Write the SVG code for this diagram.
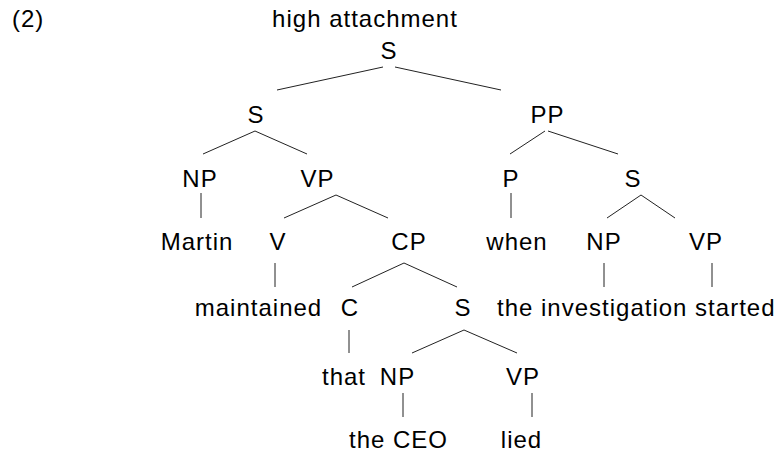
<svg xmlns="http://www.w3.org/2000/svg" width="777" height="454" viewBox="0 0 777 454">
<style>
text{font-family:"Liberation Sans",Arial,sans-serif;font-size:24px;letter-spacing:1px;fill:#000;text-anchor:middle}
.st{text-anchor:start}
#edges line{stroke:#222;stroke-width:1}
</style>
<rect width="777" height="454" fill="#fff"/>
<text class="st" x="12" y="27">(2)</text>
<text x="365" y="27">high attachment</text>
<g id="edges">
<line x1="383" y1="67" x2="277" y2="90"/>
<line x1="395" y1="67" x2="501" y2="90"/>
<line x1="255" y1="131" x2="203" y2="154"/>
<line x1="255" y1="131" x2="307" y2="154"/>
<line x1="545" y1="131" x2="510" y2="154"/>
<line x1="548" y1="131" x2="618" y2="154"/>
<line x1="201" y1="193" x2="201" y2="218"/>
<line x1="336" y1="195" x2="284" y2="218"/>
<line x1="336" y1="195" x2="388" y2="218"/>
<line x1="511" y1="193" x2="511" y2="218"/>
<line x1="641" y1="195" x2="607" y2="218"/>
<line x1="641" y1="195" x2="675" y2="218"/>
<line x1="275" y1="263" x2="275" y2="287"/>
<line x1="404" y1="263" x2="352" y2="287"/>
<line x1="404" y1="263" x2="457" y2="287"/>
<line x1="604" y1="263" x2="604" y2="287"/>
<line x1="712" y1="263" x2="712" y2="287"/>
<line x1="349" y1="330" x2="349" y2="353"/>
<line x1="464" y1="330" x2="412" y2="353"/>
<line x1="464" y1="330" x2="517" y2="353"/>
<line x1="403" y1="393" x2="403" y2="417"/>
<line x1="532" y1="393" x2="532" y2="417"/>
</g>
<g id="n-S-root"><text x="389" y="59">S</text></g>
<g id="n-S1"><text x="256" y="123">S</text></g>
<g id="n-PP"><text x="547.5" y="123">PP</text></g>
<g id="n-NP1"><text x="200" y="187">NP</text></g>
<g id="n-VP1"><text x="317.5" y="187">VP</text></g>
<g id="n-P"><text x="511" y="187">P</text></g>
<g id="n-S2"><text x="633" y="187">S</text></g>
<g id="n-Martin"><text x="197" y="250">Martin</text></g>
<g id="n-V"><text x="278" y="250">V</text></g>
<g id="n-CP"><text x="409" y="250">CP</text></g>
<g id="n-when"><text x="517" y="250">when</text></g>
<g id="n-NP2"><text x="604" y="250">NP</text></g>
<g id="n-VP2"><text x="706" y="250">VP</text></g>
<g id="n-maintained"><text x="258.5" y="316">maintained</text></g>
<g id="n-C"><text x="350" y="316">C</text></g>
<g id="n-S3"><text x="463" y="316">S</text></g>
<g id="n-investigation"><text class="st" x="497" y="316">the investigation started</text></g>
<g id="n-that"><text x="344" y="385">that</text></g>
<g id="n-NP3"><text x="397.5" y="385">NP</text></g>
<g id="n-VP3"><text x="523" y="385">VP</text></g>
<g id="n-CEO"><text x="398.5" y="448">the CEO</text></g>
<g id="n-lied"><text x="521.5" y="448">lied</text></g>
</svg>
